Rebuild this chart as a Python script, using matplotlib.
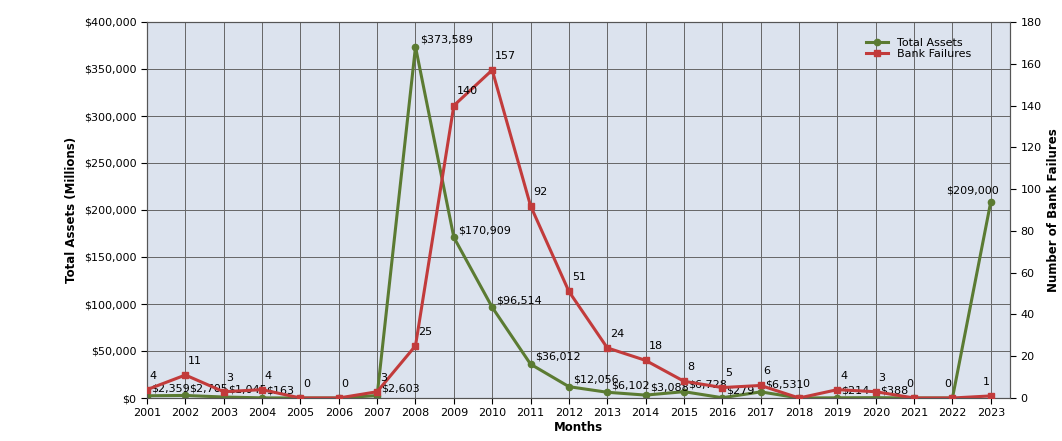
import matplotlib.pyplot as plt
from matplotlib.ticker import FuncFormatter

years = list(range(2001, 2024))
assets = [2359, 2705, 1045, 163, 0, 0, 2603, 373589, 170909, 96514, 36012, 12056,
          6102, 3088, 6728, 279, 6531, 0, 214, 388, 0, 0, 209000]
failures = [4, 11, 3, 4, 0, 0, 3, 25, 140, 157, 92, 51, 24, 18, 8, 5, 6, 0, 4, 3, 0, 0, 1]

green = '#5b7b32'
red = '#c23b3b'

fig = plt.figure(figsize=(10.62, 4.41), dpi=100)
ax = fig.add_axes([147 / 1062, 43 / 441, 863 / 1062, 376 / 441])
ax.set_facecolor('#dce3ee')
ax2 = ax.twinx()

ax.set_xlim(2001, 2023.5)
ax.set_ylim(0, 400000)
ax2.set_ylim(0, 180)
ax.set_xticks(years)
ax.set_yticks(range(0, 400001, 50000))
ax2.set_yticks(range(0, 181, 20))
ax.grid(True, color='#666666', lw=0.7)
ax.set_axisbelow(True)
ax.yaxis.set_major_formatter(FuncFormatter(lambda v, p: '$0' if v == 0 else '${:,.0f}'.format(v)))

l1, = ax.plot(years, assets, color=green, lw=2.2, marker='o', ms=4.5, label='Total Assets', zorder=3)
l2, = ax2.plot(years, failures, color=red, lw=2.2, marker='s', ms=4.5, label='Bank Failures', zorder=3)

for x, v in zip(years, assets):
    if v > 0:
        off = (-32, 6) if x == 2023 else (3, 3)
        ax.annotate('${:,}'.format(v), (x, v), xytext=off, textcoords='offset points', fontsize=8)
for x, v in zip(years, failures):
    ax2.annotate(str(v), (x, v), xytext=(2, 8) if x < 2021 else (-6, 8),
                 textcoords='offset points', fontsize=8)

for a in (ax, ax2):
    a.tick_params(labelsize=8, length=4)
    for s in a.spines.values():
        s.set_color('#555555')
ax.set_xlabel('Months', fontsize=8.5, fontweight='bold', labelpad=2)
ax.set_ylabel('Total Assets (Millions)', fontsize=8.5, fontweight='bold')
ax2.set_ylabel('Number of Bank Failures', fontsize=8.5, fontweight='bold')
ax.legend([l1, l2], ['Total Assets', 'Bank Failures'], loc='upper right', bbox_to_anchor=(0.96, 0.97),
          frameon=False, fontsize=8, handlelength=2, borderaxespad=0, labelspacing=0.1)

fig.savefig('out.png', dpi=100)
